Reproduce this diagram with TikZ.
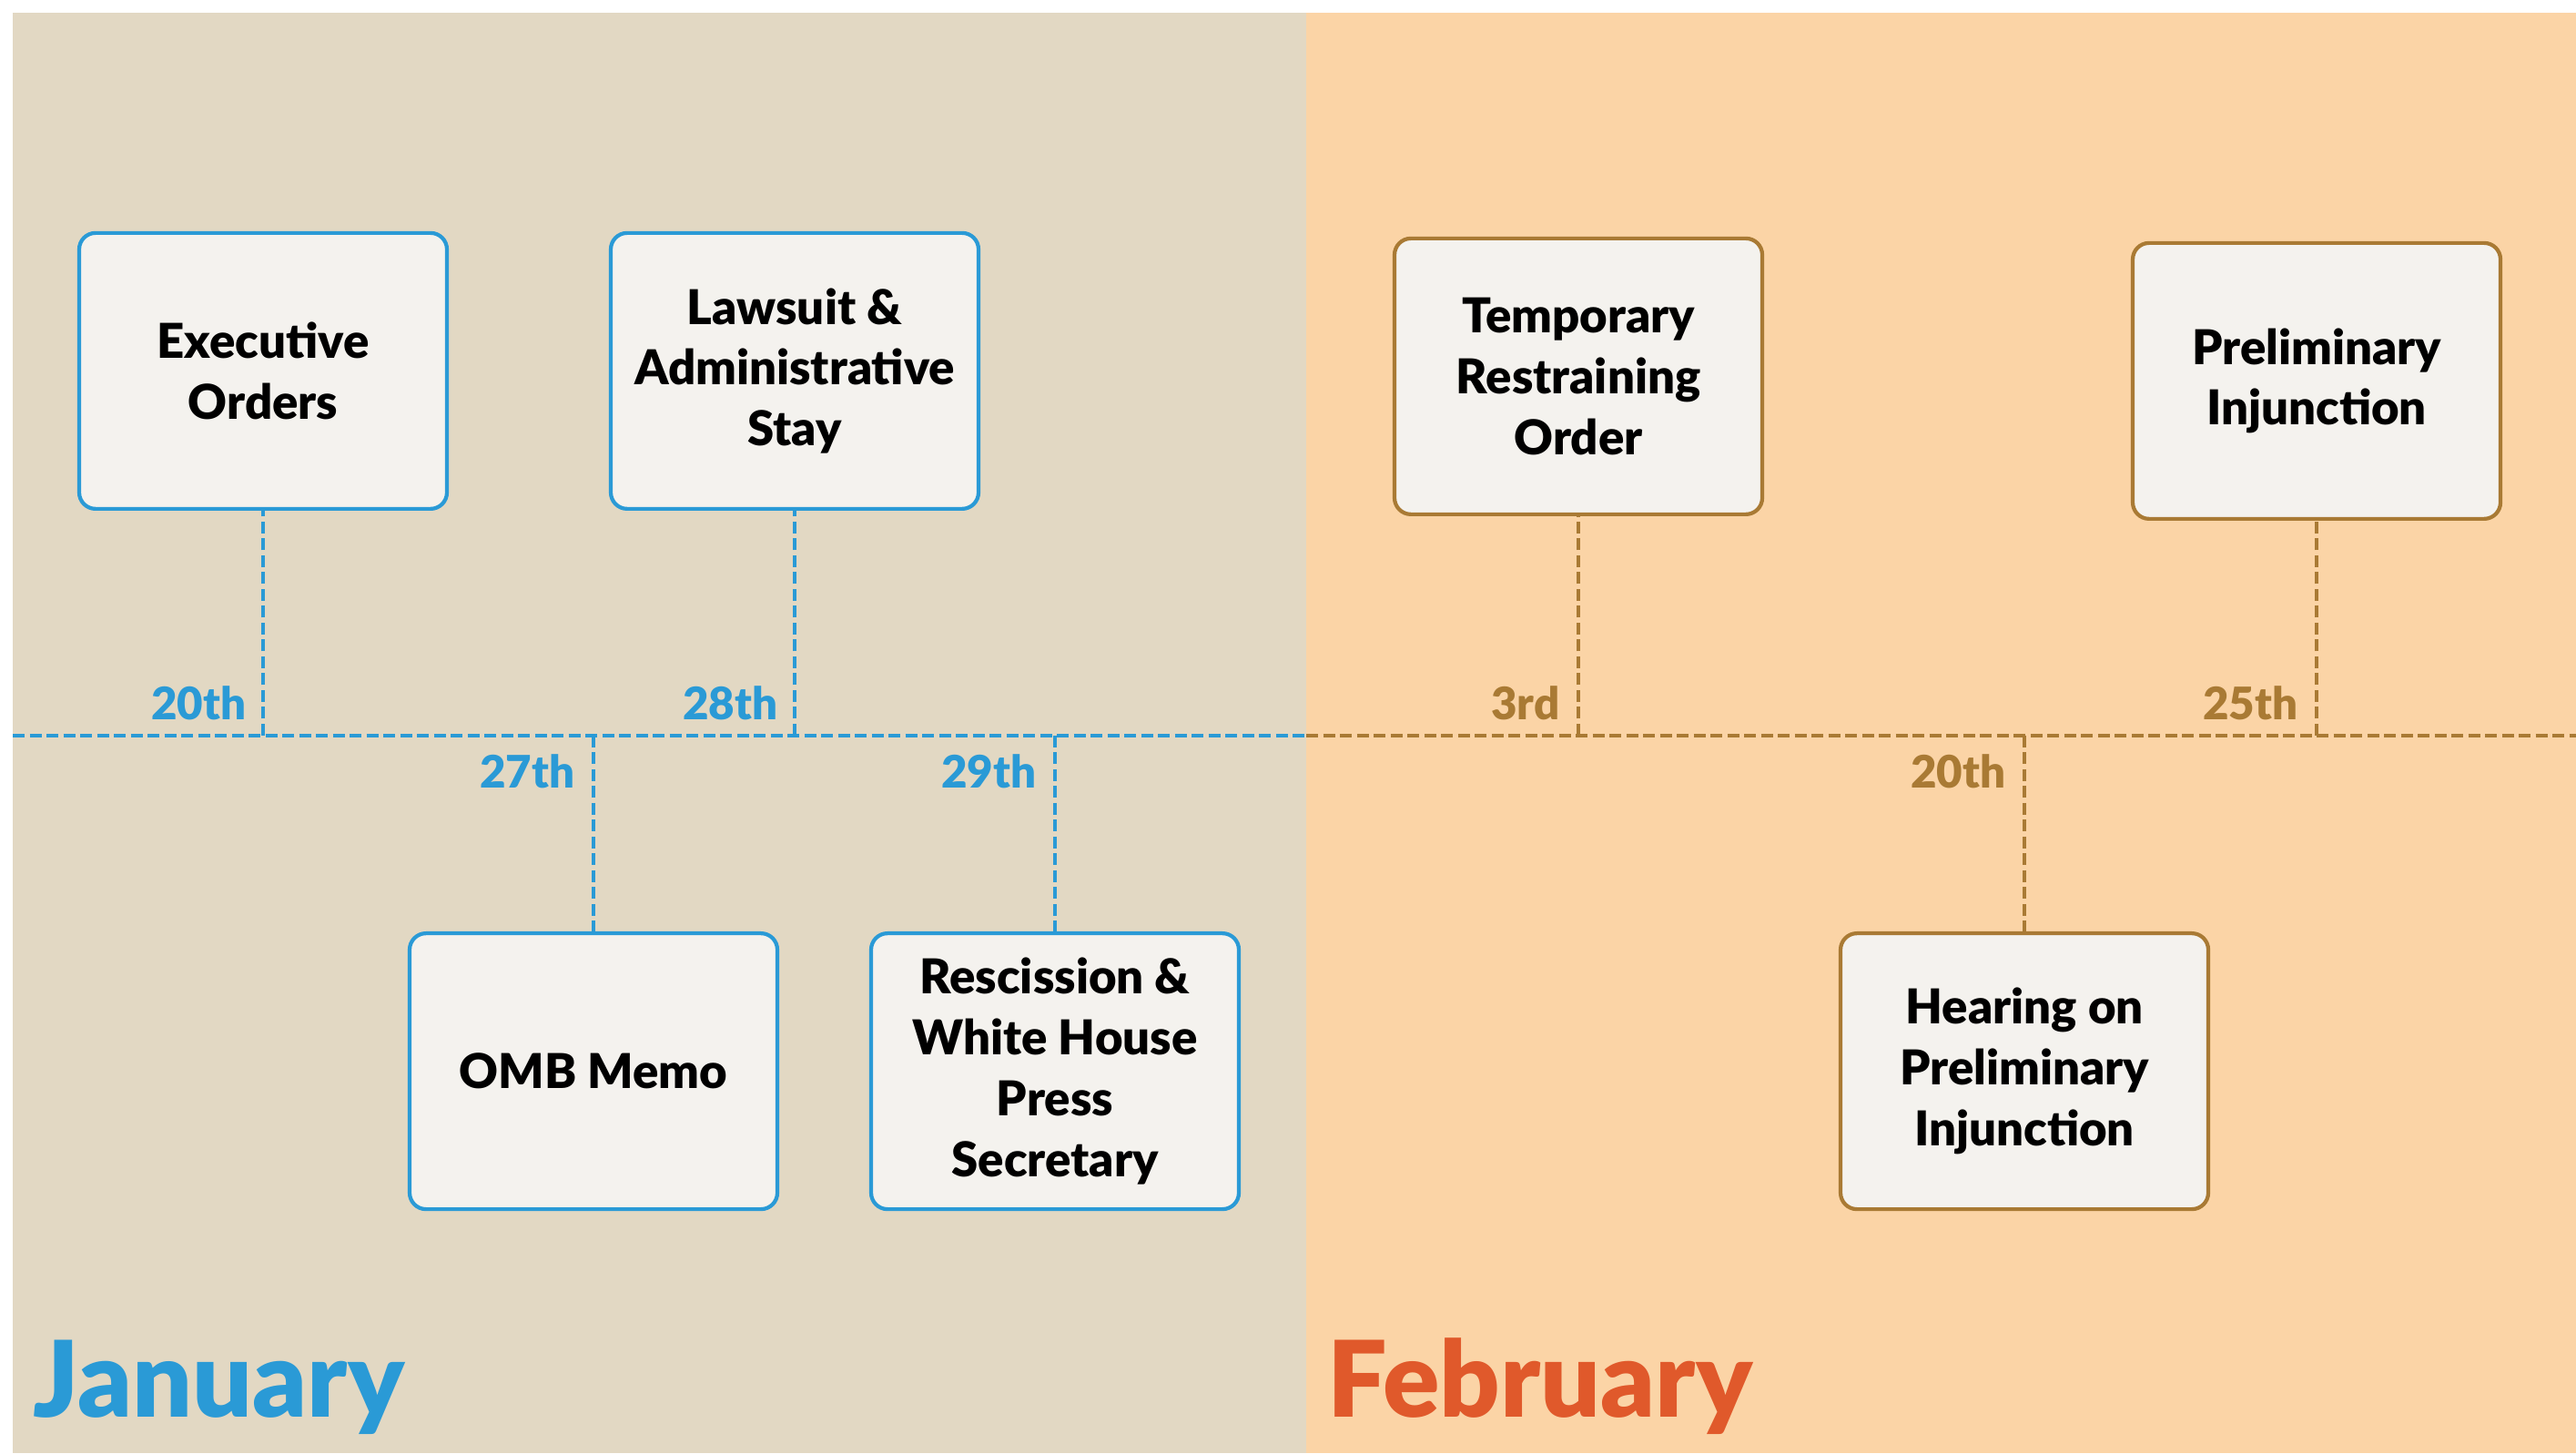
\documentclass[tikz,border=0pt]{standalone}
\usepackage{fontspec}
\setmainfont{Lato}[BoldFont={Lato Black}]
\usetikzlibrary{positioning}

\definecolor{janbg}{HTML}{E2D8C3}
\definecolor{febbg}{HTML}{FBD4A6}
\definecolor{janblue}{HTML}{2A9AD6}
\definecolor{febbrown}{HTML}{A97A34}
\definecolor{febred}{HTML}{E0592B}
\definecolor{boxfill}{HTML}{F4F2EE}

\begin{document}
\begin{tikzpicture}[
			every node/.style={align=center},
			event/.style={rectangle, draw, line width=1.2pt, rounded corners=0.18cm, fill=boxfill, minimum width=4.04cm, minimum height=3.03cm, inner sep=2pt, font=\bfseries\fontsize{15}{19}\selectfont},
			janbox/.style={event, draw=janblue},
			febbox/.style={event, draw=febbrown},
			stem/.style={line width=1.3pt, dash pattern=on 1.3mm off 0.55mm},
			date/.style={inner sep=0pt, font=\bfseries\fontsize{14}{16}\selectfont},
			month/.style={inner sep=0pt, font=\bfseries\fontsize{33}{36}\selectfont}
			]
			% Background
			\useasboundingbox (0,0) rectangle (28.30,15.96);
			\fill[janbg] (0.14,0) rectangle (14.35,15.82);
			\fill[febbg] (14.35,0) rectangle (28.30,15.82);
			
			% Timeline
			\coordinate (start) at (0.14,7.88);
			\coordinate (split) at (14.35,7.88);
			\coordinate (end) at (28.30,7.88);
			\coordinate (j20) at (2.89,7.88);
			\coordinate (j27) at (6.52,7.88);
			\coordinate (j28) at (8.73,7.88);
			\coordinate (j29) at (11.59,7.88);
			\coordinate (f3) at (17.34,7.88);
			\coordinate (f20) at (22.24,7.88);
			\coordinate (f25) at (25.45,7.88);
			\draw[stem, janblue] (start) -- (split);
			\draw[stem, febbrown] (split) -- (end);
			
			% Events
			\node[janbox, above=2.47cm of j20] (exec) {Executive\\Orders};
			\node[janbox, above=2.47cm of j28] (lawsuit) {Lawsuit \&\\Administrative\\Stay};
			\node[janbox, below=2.15cm of j27] (omb) {OMB Memo};
			\node[janbox, below=2.15cm of j29] (rescission) {Rescission \&\\White House\\Press\\Secretary};
			\node[febbox, above=2.41cm of f3] (tro) {Temporary\\Restraining\\Order};
			\node[febbox, above=2.36cm of f25] (prelim) {Preliminary\\Injunction};
			\node[febbox, below=2.15cm of f20] (hearing) {Hearing on\\Preliminary\\Injunction};
			
			% Stems
			\draw[stem, janblue] (j20) -- (exec);
			\draw[stem, janblue] (j28) -- (lawsuit);
			\draw[stem, janblue] (j27) -- (omb);
			\draw[stem, janblue] (j29) -- (rescission);
			\draw[stem, febbrown] (f3) -- (tro);
			\draw[stem, febbrown] (f25) -- (prelim);
			\draw[stem, febbrown] (f20) -- (hearing);
			
			% Dates
			\node[date, janblue, above left=0.16cm and 0.18cm of j20] (d20) {20th};
			\node[date, janblue, above left=0.16cm and 0.18cm of j28] (d28) {28th};
			\node[date, janblue, below left=0.2cm and 0.2cm of j27] (d27) {27th};
			\node[date, janblue, below left=0.2cm and 0.2cm of j29] (d29) {29th};
			\node[date, febbrown, above left=0.16cm and 0.2cm of f3] (d3) {3rd};
			\node[date, febbrown, above left=0.16cm and 0.2cm of f25] (d25) {25th};
			\node[date, febbrown, below left=0.2cm and 0.2cm of f20] (dd20) {20th};
			
			% Months
			\node[month, janblue, anchor=base west] (jan) at (0.36,0.40) {January};
			\node[month, febred, anchor=base west] (feb) at (14.58,0.40) {February};
		\end{tikzpicture}
\end{document}
